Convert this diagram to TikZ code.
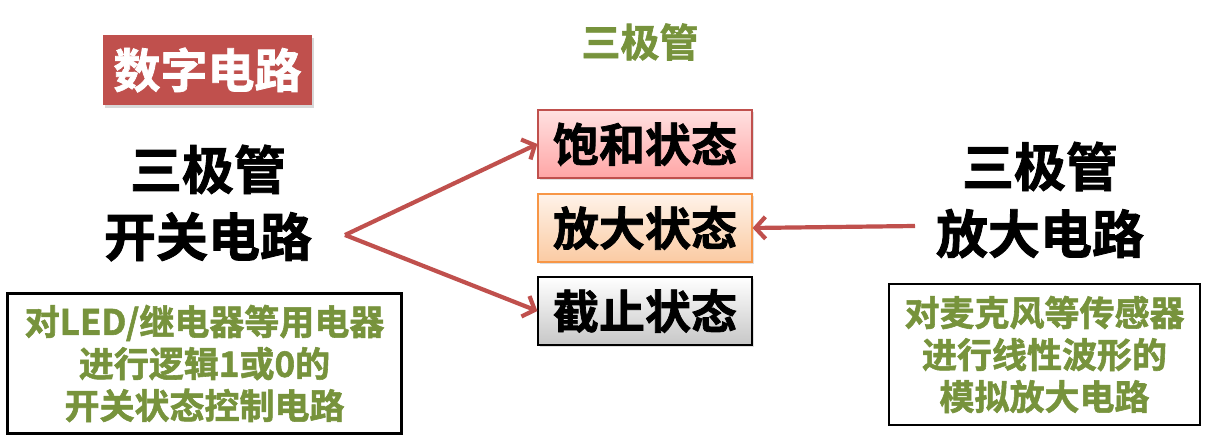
\documentclass[tikz,border=0pt]{standalone}
\usepackage{fontspec}
\newfontfamily\cjk{Noto Sans CJK SC Bold}[FakeBold=1.6]
\usepackage{xcolor}
\definecolor{brick}{RGB}{192,80,77}
\definecolor{leaf}{RGB}{119,147,60}
\definecolor{apricot}{RGB}{247,150,70}
\usetikzlibrary{positioning,arrows.meta,shadows}

\tikzset{
  statebox/.style={draw,line width=1.2pt,minimum width=214pt,minimum height=68pt,
    inner sep=0pt,font=\cjk\fontsize{46}{50}\selectfont,
    drop shadow={opacity=.25,shadow xshift=2pt,shadow yshift=-2pt}},
  notebox/.style={draw,line width=2.2pt,minimum width=394pt,minimum height=140pt,
    align=center,text=leaf,font=\cjk\fontsize{35}{42}\selectfont},
  bigtext/.style={align=center,font=\cjk\fontsize{52}{67}\selectfont},
  redarrow/.style={brick,line width=4.2pt,-{Straight Barb[length=10pt,width=22pt]}}
}

\begin{document}
\begin{tikzpicture}[x=1pt,y=-1pt]
\useasboundingbox[fill=white] (0,0) rectangle (1216,444);

%%% title
\node[fill=brick,text=white,minimum width=209pt,minimum height=70pt,inner sep=0pt,
  font=\cjk\fontsize{47}{50}\selectfont,
  drop shadow={opacity=.3,shadow xshift=2pt,shadow yshift=-3pt}] (digital) at (207.5,70) {数字电路};
\node[text=leaf,font=\cjk\fontsize{39}{44}\selectfont] (transistor) at (640,42) {三极管};

%%% the three states
\node[statebox,draw=brick,top color=red!12,bottom color=red!35] (sat) at (645,144) {饱和状态};
\node[statebox,draw=apricot,top color=apricot!12,bottom color=apricot!50] (amp) at (645,228) {放大状态};
\node[statebox,draw=black,top color=white,bottom color=black!22] (cut) at (645,311) {截止状态};

%%% switch side
\node[bigtext] (switch) at (208,203) {三极管\\开关电路};
\node[notebox] (switchnote) at (204.5,363.5) {对LED/继电器等用电器\\进行逻辑1或0的\\开关状态控制电路};

%%% amplifier side
\node[bigtext] (amplifier) at (1040,200) {三极管\\放大电路};
\node[notebox,minimum width=311pt,minimum height=141pt] (ampnote) at (1044.5,354.5) {对麦克风等传感器\\进行线性波形的\\模拟放大电路};

%%% arrows
\coordinate (fork) at (345,235);
\coordinate (feed) at (915,226);
\draw[redarrow] (fork) -- (sat.west);
\draw[redarrow] (fork) -- (cut.west);
\draw[redarrow] (feed) -- (amp.east);

\end{tikzpicture}
\end{document}
